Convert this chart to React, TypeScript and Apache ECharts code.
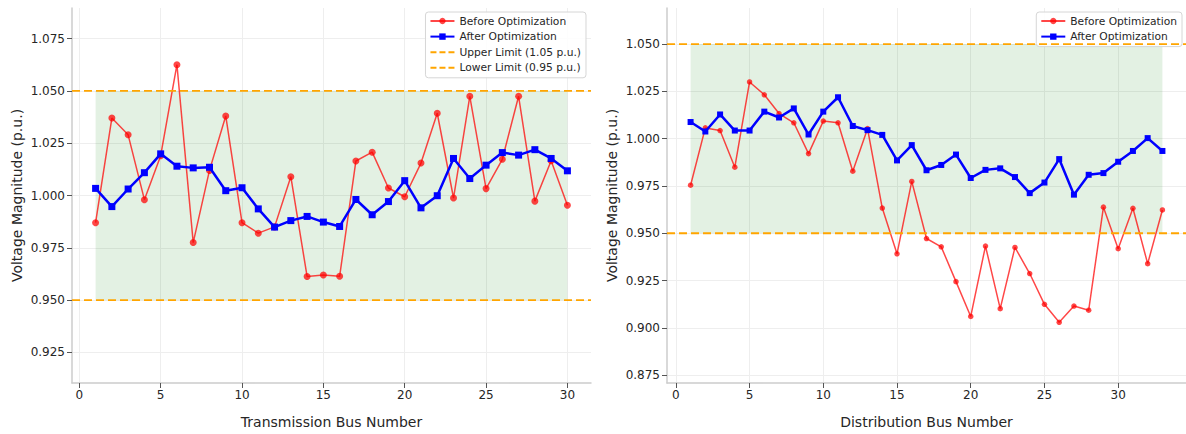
import React, { useEffect, useRef } from "react";
import * as echarts from "echarts";

const transBefore = [0.987, 1.037, 1.029, 0.998, 1.019, 1.0625, 0.9775, 1.012, 1.038, 0.987, 0.982, 0.985, 1.009, 0.9613, 0.962, 0.9614, 1.0165, 1.0207, 1.0036, 0.9994, 1.0155, 1.0393, 0.9988, 1.0474, 1.0033, 1.0173, 1.0474, 0.9973, 1.0166, 0.9953];
const transAfter = [1.0034, 0.9947, 1.0031, 1.0109, 1.0199, 1.014, 1.0132, 1.0135, 1.0023, 1.0037, 0.9936, 0.9849, 0.988, 0.99, 0.9873, 0.9852, 0.9981, 0.9908, 0.9971, 1.0071, 0.9941, 0.9999, 1.0177, 1.0081, 1.0145, 1.0205, 1.0193, 1.0219, 1.0177, 1.0118];
const distBefore = [0.9754, 1.0057, 1.0043, 0.9849, 1.03, 1.0232, 1.0133, 1.0084, 0.9921, 1.0093, 1.0084, 0.9828, 1.0053, 0.9633, 0.9391, 0.9774, 0.9472, 0.9428, 0.9244, 0.906, 0.9432, 0.9101, 0.9425, 0.9287, 0.9124, 0.9029, 0.9115, 0.9093, 0.9638, 0.9418, 0.9632, 0.9339, 0.9623];
const distAfter = [1.0088, 1.0038, 1.0128, 1.0043, 1.0043, 1.0143, 1.0112, 1.016, 1.0022, 1.0143, 1.0219, 1.0067, 1.0045, 1.002, 0.9885, 0.9966, 0.9833, 0.9861, 0.9916, 0.9792, 0.9835, 0.9843, 0.9797, 0.9712, 0.9768, 0.9892, 0.9704, 0.9809, 0.9818, 0.9878, 0.9935, 1.0003, 0.9935];

const upperLimit = 1.05;
const lowerLimit = 0.95;
const xTicks = [0, 5, 10, 15, 20, 25, 30];
const transYTicks = [0.925, 0.95, 0.975, 1.0, 1.025, 1.05, 1.075];
const distYTicks = [0.875, 0.9, 0.925, 0.95, 0.975, 1.0, 1.025, 1.05];

const FONT = "DejaVu Sans";
const TXT = "#262626";
const SPINE = "#cccccc";
const GRIDC = "#eeeeee";
const RED = "rgba(255,0,0,0.72)";
const BLUE = "#0000ff";
const ORANGE = "#ffa500";
const DASH_ICON = "path://M0,0M0,3h6v2h-6zM9,3h6v2h-6zM18,3h6v2h-6zM24,8";

function toPts(vals: number[]) {
  return vals.map((v, i) => [i + 1, v]);
}

export default function App() {
  const ref = useRef<HTMLDivElement>(null);
  useEffect(() => {
    if (!ref.current) return;
    const chart = echarts.init(ref.current, undefined, { renderer: "svg" });

    const tMin = -0.45, tMax = 31.45;
    const dMin = -0.6, dMax = 34.6;

    const xAxisBase = (min: number, max: number, name: string, gi: number) => ({
      type: "value",
      gridIndex: gi,
      min,
      max,
      name,
      nameLocation: "middle",
      nameGap: 32,
      nameTextStyle: { fontFamily: FONT, fontSize: 14, color: TXT },
      axisLine: { show: true, onZero: false, lineStyle: { color: SPINE, width: 1.5 } },
      axisTick: { show: true, customValues: xTicks, length: 5, lineStyle: { color: "#555", width: 1 } },
      axisLabel: { customValues: xTicks, fontFamily: FONT, fontSize: 12, color: TXT, margin: 6 },
      splitLine: { show: true, lineStyle: { color: GRIDC, width: 1 } },
    });
    const yAxisBase = (min: number, max: number, ticks: number[], gi: number, gap: number) => ({
      type: "value",
      gridIndex: gi,
      min,
      max,
      name: "Voltage Magnitude (p.u.)",
      nameLocation: "middle",
      nameGap: gap,
      nameTextStyle: { fontFamily: FONT, fontSize: 14, color: TXT },
      axisLine: { show: true, onZero: false, lineStyle: { color: SPINE, width: 1.5 } },
      axisTick: { show: true, customValues: ticks, length: 5, lineStyle: { color: "#555", width: 1 } },
      axisLabel: {
        customValues: ticks,
        fontFamily: FONT,
        fontSize: 12,
        color: TXT,
        margin: 7,
        formatter: (v: number) => v.toFixed(3),
      },
      splitLine: { show: true, lineStyle: { color: GRIDC, width: 1 } },
    });

    const fillArea = (x1: number, x2: number) => ({
      silent: true,
      itemStyle: { color: "rgba(0,128,0,0.11)" },
      data: [[{ xAxis: x1, yAxis: lowerLimit }, { xAxis: x2, yAxis: upperLimit }]],
    });

    const limitSeries = (name: string, v: number, min: number, max: number, gi: number) => ({
      type: "line",
      name,
      xAxisIndex: gi,
      yAxisIndex: gi,
      data: [[min, v], [max, v]],
      symbol: "none",
      lineStyle: { color: ORANGE, width: 1.8, type: [8, 4] },
      itemStyle: { color: ORANGE },
      z: 4,
    });

    const legendCommon = {
      top: 12,
      orient: "vertical",
      itemWidth: 24,
      itemHeight: 8,
      itemGap: 3.6,
      padding: [3, 5, 4, 4],
      backgroundColor: "rgba(255,255,255,0.85)",
      borderColor: "#d6d6d6",
      borderWidth: 1,
      borderRadius: 3,
      textStyle: { fontFamily: FONT, fontSize: 10.7, color: TXT, lineHeight: 12 },
    };

    chart.setOption({
      animation: false,
      grid: [
        { left: 72, top: 8, width: 519, height: 384 },
        { left: 667, top: 8, width: 519, height: 384 },
      ],
      xAxis: [
        xAxisBase(tMin, tMax, "Transmission Bus Number", 0),
        xAxisBase(dMin, dMax, "Distribution Bus Number", 1),
      ],
      yAxis: [
        yAxisBase(0.9104, 1.0896, transYTicks, 0, 48),
        yAxisBase(0.8708, 1.0691, distYTicks, 1, 48),
      ],
      legend: [
        {
          ...legendCommon,
          right: 600,
          data: [
            "Before Optimization",
            "After Optimization",
            { name: "Upper Limit (1.05 p.u.)", icon: DASH_ICON, itemStyle: { color: ORANGE } },
            { name: "Lower Limit (0.95 p.u.)", icon: DASH_ICON, itemStyle: { color: ORANGE } },
          ],
        },
        {
          ...legendCommon,
          right: 4,
          data: ["Before Optimization", "After Optimization"],
        },
      ],
      series: [
        {
          type: "line",
          name: "Before Optimization",
          xAxisIndex: 0,
          yAxisIndex: 0,
          data: toPts(transBefore),
          symbol: "circle",
          symbolSize: 7,
          lineStyle: { color: RED, width: 1.5 },
          itemStyle: { color: RED },
          markArea: fillArea(1, transBefore.length),
          z: 3,
        },
        {
          type: "line",
          name: "After Optimization",
          xAxisIndex: 0,
          yAxisIndex: 0,
          data: toPts(transAfter),
          symbol: "rect",
          symbolSize: 7,
          lineStyle: { color: BLUE, width: 2.5 },
          itemStyle: { color: BLUE },
          z: 5,
        },
        limitSeries("Upper Limit (1.05 p.u.)", upperLimit, tMin, tMax, 0),
        limitSeries("Lower Limit (0.95 p.u.)", lowerLimit, tMin, tMax, 0),
        {
          type: "line",
          name: "Before Optimization",
          xAxisIndex: 1,
          yAxisIndex: 1,
          data: toPts(distBefore),
          symbol: "circle",
          symbolSize: 5.5,
          lineStyle: { color: RED, width: 1.5 },
          itemStyle: { color: RED },
          markArea: fillArea(1, distBefore.length),
          z: 3,
        },
        {
          type: "line",
          name: "After Optimization",
          xAxisIndex: 1,
          yAxisIndex: 1,
          data: toPts(distAfter),
          symbol: "rect",
          symbolSize: 6,
          lineStyle: { color: BLUE, width: 2.5 },
          itemStyle: { color: BLUE },
          z: 5,
        },
        limitSeries("Upper Limit (1.05 p.u.)", upperLimit, dMin, dMax, 1),
        limitSeries("Lower Limit (0.95 p.u.)", lowerLimit, dMin, dMax, 1),
      ],
    });
    return () => chart.dispose();
  }, []);
  return (
    <div
      ref={ref}
      style={{ position: "fixed", left: 0, top: 0, width: 1186, height: 434, background: "#fff" }}
    />
  );
}
